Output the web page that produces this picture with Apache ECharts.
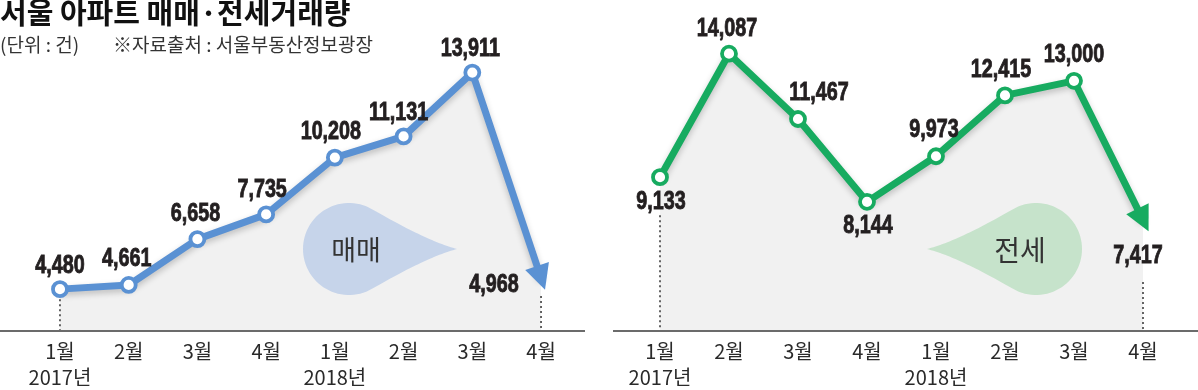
<!DOCTYPE html>
<html><head><meta charset="utf-8">
<script src="https://cdn.jsdelivr.net/npm/echarts@6.0.0/dist/echarts.min.js"></script>
<style>html,body{margin:0;padding:0;background:#fff}#c{width:1198px;height:390px}</style>
</head><body><div id="c"></div>
<script>
// ---- data ----
const monthLabels = ['1월','2월','3월','4월','1월','2월','3월','4월'];
const yearLabels = ['2017년','','','','2018년','','',''];
const saleValues = [4480,4661,6658,7735,10208,11131,13911,4968];
const jeonseValues = [9133,14087,11467,8144,9973,12415,13000,7417];
const titleText = '서울 아파트 매매·전세거래량';
const unitText = '(단위 : 건)';
const sourceText = '※자료출처 : 서울부동산정보광장';
const saleName = '매매';
const jeonseName = '전세';

// ---- styles / layout ----
const KR = "'Noto Sans CJK KR', sans-serif";
const NUM = "'Liberation Sans', 'Arial', sans-serif";
const BLUE = '#5a91d3', GREEN = '#17ab60';
const LABEL_COLOR = '#231f20';
const AXIS_Y = 331;
const fmt = v => v.toLocaleString('en-US');

const panels = [
  { values: saleValues, color: BLUE, grid: {left: 25.6, width: 549.8, top: 20, bottom: 390 - AXIS_Y}, min: 2700, max: 16200,
    labelOffsets: [[0,-23],[-2,-26],[-2,-25],[-4,-25],[-4,-26],[-5,-24],[-2,-24],[-47,7]],
    axisX: [0, 585], firstDot: 0, lastDot: 18 },
  { values: jeonseValues, color: GREEN, grid: {left: 625.5, width: 552, top: 20, bottom: 390 - AXIS_Y}, min: 3000, max: 15440,
    labelOffsets: [[1,25],[-2,-25],[21,-26],[1,24],[-2,-26],[-4,-26],[0,-26],[-5,36]],
    axisX: [613, 1198], firstDot: 38, lastDot: 62 }
];

function teardrop(cx, cy, r, len, dir) {
  const pts = [];
  const a0 = Math.PI / 3, a1 = 2 * Math.PI - Math.PI / 3;
  for (let i = 0; i <= 60; i++) {
    const a = a0 + (a1 - a0) * i / 60;
    pts.push([cx + dir * r * Math.cos(a), cy + r * Math.sin(a)]);
  }
  const quad = (p0, c, p2, n, out) => {
    for (let i = 1; i <= n; i++) {
      const t = i / n, u = 1 - t;
      out.push([u*u*p0[0] + 2*u*t*c[0] + t*t*p2[0], u*u*p0[1] + 2*u*t*c[1] + t*t*p2[1]]);
    }
  };
  const top = [cx + dir * r * 0.5, cy - r * 0.866];
  const bot = [cx + dir * r * 0.5, cy + r * 0.866];
  const tip = [cx + dir * len, cy];
  quad(top, [cx + dir * 1.71 * r, cy - 0.166 * r], tip, 30, pts);
  quad(tip, [cx + dir * 1.71 * r, cy + 0.166 * r], bot, 30, pts);
  return pts;
}

const chart = echarts.init(document.getElementById('c'), null, {renderer: 'canvas'});
const shadow = {shadowColor: 'rgba(0,0,0,0.22)', shadowBlur: 6, shadowOffsetY: 3};

function lineData(p, rot) {
  return p.values.map((v, i) => i < 7 ? v : {
    value: v, symbol: 'triangle', symbolSize: [25, 25], symbolRotate: rot,
    itemStyle: {color: p.color, borderWidth: 0}
  });
}

const grids = [], xAxes = [], yAxes = [], series = [];
panels.forEach((p, k) => {
  grids.push(p.grid);
  xAxes.push({
    type: 'category', gridIndex: k, data: monthLabels, boundaryGap: true,
    axisLine: {show: false},
    axisTick: {show: true, inside: true, length: 12, alignWithLabel: true,
      interval: (i) => i > 0 && i < 7, lineStyle: {color: '#333', width: 1.5}},
    axisLabel: {interval: 0, margin: 8, fontFamily: KR, fontSize: 20, lineHeight: 26, color: '#2a2a2a',
      formatter: (v, i) => yearLabels[i] ? v + '\n' + yearLabels[i] : v},
    splitLine: {show: false}
  });
  yAxes.push({type: 'value', gridIndex: k, min: p.min, max: p.max, show: false, splitLine: {show: false}});
  series.push({
    type: 'line', xAxisIndex: k, yAxisIndex: k, data: p.values, symbol: 'none', silent: true, z: 1,
    lineStyle: {width: 0, opacity: 0}, areaStyle: {color: '#f1f1f1', opacity: 1, origin: 'start'}
  });
  series.push({
    type: 'line', xAxisIndex: k, yAxisIndex: k, z: 4, silent: true,
    data: lineData(p, 0),
    symbol: 'circle', symbolSize: 14, showAllSymbol: true,
    itemStyle: {color: '#fff', borderColor: p.color, borderWidth: 3.8},
    lineStyle: Object.assign({color: p.color, width: 7}, shadow),
    label: {show: false}
  });
});

const graphics = [
  {id: 'title', type: 'text', left: 0, top: -2, style: {text: titleText, fontFamily: KR, fontWeight: 'bold', fontSize: 29, fill: '#111'}},
  {id: 'unit', type: 'text', left: 0, top: 35, style: {text: unitText, fontFamily: KR, fontSize: 19, fill: '#333'}},
  {id: 'src', type: 'text', left: 113, top: 35, style: {text: sourceText, fontFamily: KR, fontSize: 19, fill: '#333'}},
  {id: 'dropL', type: 'polygon', z: 2, shape: {points: teardrop(349, 249, 46, 108, 1)}, style: {fill: '#c6d4ea'}},
  {id: 'dropR', type: 'polygon', z: 2, shape: {points: teardrop(1036, 249, 46, 109, -1)}, style: {fill: '#c6e3cb'}},
  {id: 'nameL', type: 'text', z: 3, x: 356, y: 250, style: {text: saleName, fontFamily: KR, fontSize: 27, fill: '#333', align: 'center', verticalAlign: 'middle'}},
  {id: 'nameR', type: 'text', z: 3, x: 1020, y: 250, style: {text: jeonseName, fontFamily: KR, fontSize: 28, fill: '#333', align: 'center', verticalAlign: 'middle'}}
];
panels.forEach((p, k) => {
  graphics.push({id: 'axis' + k, type: 'line', z: 3, shape: {x1: p.axisX[0], y1: AXIS_Y, x2: p.axisX[1], y2: AXIS_Y},
    style: {stroke: '#3a3a3a', lineWidth: 1.5}});
});

chart.setOption({
  animation: false,
  grid: grids, xAxis: xAxes, yAxis: yAxes, series: series, graphic: graphics
});

// second pass: arrow rotation, value labels and dotted guides, placed through the axes' scales
const extra = [];
const seriesUpdate = [];
panels.forEach((p, k) => {
  const f = {xAxisIndex: k, yAxisIndex: k};
  const pts = p.values.map((v, i) => chart.convertToPixel(f, [i, v]));
  const base = chart.convertToPixel(f, [0, p.min])[1];
  const s = pts[6], b = pts[7], a = pts[0];
  const phi = Math.atan2(b[0] - s[0], -(b[1] - s[1])) * 180 / Math.PI; // clockwise from up
  seriesUpdate.push({}, {data: lineData(p, -phi)});
  extra.push({id: 'dotA' + k, type: 'line', z: 3, shape: {x1: a[0], y1: a[1] + p.firstDot, x2: a[0], y2: base},
    style: {stroke: '#333', lineWidth: 1.5, lineDash: [2, 3]}});
  extra.push({id: 'dotB' + k, type: 'line', z: 3, shape: {x1: b[0], y1: b[1] + p.lastDot, x2: b[0], y2: base},
    style: {stroke: '#333', lineWidth: 1.5, lineDash: [2, 3]}});
  p.values.forEach((v, i) => {
    extra.push({id: 'lab' + k + '_' + i, type: 'text', z: 10,
      x: pts[i][0] + p.labelOffsets[i][0], y: pts[i][1] + p.labelOffsets[i][1], scaleX: 0.76,
      style: {text: fmt(v), fontFamily: NUM, fontWeight: 'bold', fontSize: 26, fill: LABEL_COLOR,
        stroke: LABEL_COLOR, lineWidth: 0.9, align: 'center', verticalAlign: 'middle'}});
  });
});
chart.setOption({series: seriesUpdate, graphic: extra});
</script>
</body></html>
